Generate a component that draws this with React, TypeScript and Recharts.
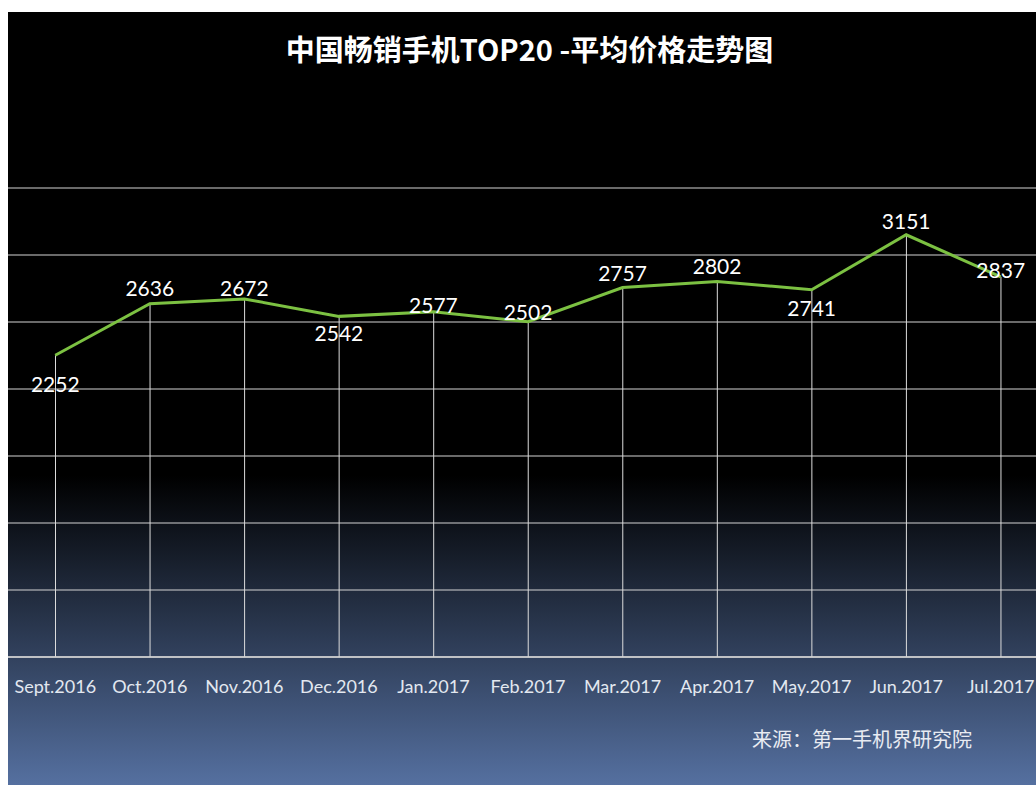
import { Bar, CartesianGrid, ComposedChart, LabelList, Line, XAxis, YAxis } from "recharts";

const MONTHS = [
  "Sept.2016",
  "Oct.2016",
  "Nov.2016",
  "Dec.2016",
  "Jan.2017",
  "Feb.2017",
  "Mar.2017",
  "Apr.2017",
  "May.2017",
  "Jun.2017",
  "Jul.2017",
];
const AVG_PRICE = [2252, 2636, 2672, 2542, 2577, 2502, 2757, 2802, 2741, 3151, 2837];
const Y_TICKS = [0, 500, 1000, 1500, 2000, 2500, 3000, 3500];

// where each value label sits relative to its point (px, + is down)
const LABEL_DY = [28, -16, -11, 16, -7, -10, -15, -16, 18, -14, -7];

const GREEN = "#7cc142";
const GRID = "#d4d4d4";
const TEXT = "#e3e8f0";
const LATIN = "Lato, 'Open Sans', sans-serif";
const CJK = "'Noto Sans CJK SC', 'Noto Sans', sans-serif";

const data = MONTHS.map((m, i) => ({ month: m, price: AVG_PRICE[i] }));

function ValueLabel(props: any) {
  const { x, y, value, index } = props;
  return (
    <text
      x={x}
      y={y + LABEL_DY[index]}
      textAnchor="middle"
      dominantBaseline="central"
      fill="#ffffff"
      fontSize={21}
      fontFamily={LATIN}
    >
      {value}
    </text>
  );
}

export default function App() {
  return (
    <div
      style={{
        position: "fixed",
        top: 12,
        left: 8,
        width: 1028,
        height: 773,
        overflow: "hidden",
        background: "linear-gradient(to bottom, #000000 0%, #000000 60%, #5570a0 100%)",
      }}
    >
      <div
        style={{
          position: "absolute",
          top: 17,
          left: 0,
          width: 1043,
          textAlign: "center",
          color: "#ffffff",
          fontFamily: CJK,
          fontWeight: 700,
          fontSize: 29,
          lineHeight: "38px",
        }}
      >
        中国畅销手机TOP20 -平均价格走势图
      </div>
      <ComposedChart
        width={1040}
        height={700}
        data={data}
        margin={{ top: 176, right: 0, bottom: 15, left: 0 }}
      >
        <CartesianGrid vertical={false} stroke={GRID} strokeWidth={1.2} />
        <XAxis
          dataKey="month"
          axisLine={{ stroke: GRID, strokeWidth: 1.5 }}
          tickLine={false}
          tickMargin={17}
          height={40}
          interval={0}
          tick={{ fill: TEXT, fontSize: 18, fontFamily: LATIN }}
        />
        <YAxis hide domain={[0, 3500]} ticks={Y_TICKS} />
        {/* drop lines from each point down to the axis */}
        <Bar dataKey="price" barSize={1} fill="#dcdcdc" isAnimationActive={false} />
        <Line
          type="linear"
          dataKey="price"
          stroke={GREEN}
          strokeWidth={3}
          dot={false}
          activeDot={false}
          isAnimationActive={false}
        >
          <LabelList dataKey="price" content={<ValueLabel />} />
        </Line>
      </ComposedChart>
      <div
        style={{
          position: "absolute",
          top: 713,
          left: 744,
          color: "#e8ebf2",
          fontFamily: CJK,
          fontSize: 20,
          lineHeight: "28px",
        }}
      >
        来源：第一手机界研究院
      </div>
    </div>
  );
}
